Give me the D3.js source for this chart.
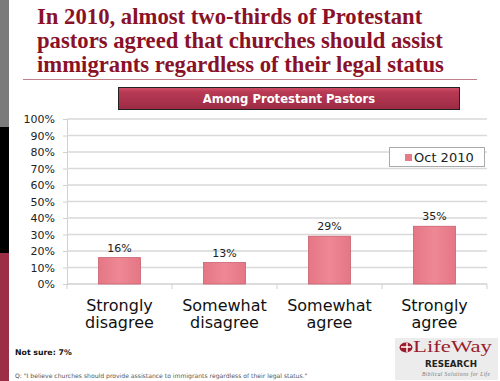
<!DOCTYPE html>
<html><head><meta charset="utf-8">
<script src="https://cdn.jsdelivr.net/npm/d3@7"></script>
<style>html,body{margin:0;padding:0;background:#fff;}svg{display:block;}</style>
</head><body>
<script>
const titleLines = ["In 2010, almost two-thirds of Protestant", "pastors agreed that churches should assist", "immigrants regardless of their legal status"];
const subtitle = "Among Protestant Pastors";
const categories = [["Strongly","disagree"],["Somewhat","disagree"],["Somewhat","agree"],["Strongly","agree"]];
const seriesName = "Oct 2010";
const values = [16, 13, 29, 35];
const yTicks = [0,10,20,30,40,50,60,70,80,90,100];
const noteText = "Not sure: 7%";
const questionText = "Q: \"I believe churches should provide assistance to immigrants regardless of their legal status.\"";

const W = 500, H = 381;
const svg = d3.select("body").append("svg").attr("width", W).attr("height", H);
const defs = svg.append("defs");
const g1 = defs.append("linearGradient").attr("id","hdr").attr("x1",0).attr("y1",0).attr("x2",0).attr("y2",1);
g1.append("stop").attr("offset","0%").attr("stop-color","#d4506a");
g1.append("stop").attr("offset","20%").attr("stop-color","#b83a54");
g1.append("stop").attr("offset","100%").attr("stop-color","#9c2a44");
const g2 = defs.append("linearGradient").attr("id","bar").attr("x1",0).attr("y1",0).attr("x2",1).attr("y2",0);
g2.append("stop").attr("offset","0%").attr("stop-color","#e57685");
g2.append("stop").attr("offset","50%").attr("stop-color","#ee8894");
g2.append("stop").attr("offset","100%").attr("stop-color","#e57685");

// left strip
svg.append("rect").attr("x",0).attr("y",0).attr("width",9).attr("height",127).attr("fill","#7b7b7b");
svg.append("rect").attr("x",0).attr("y",127).attr("width",9).attr("height",126).attr("fill","#000");
svg.append("rect").attr("x",0).attr("y",253).attr("width",9).attr("height",128).attr("fill","#9b2d45");

// title
svg.append("g").selectAll("text").data(titleLines).join("text")
  .attr("x", 37).attr("y", (d,i) => 24 + i*24)
  .attr("font-family", "'Liberation Serif', 'Times New Roman', serif")
  .attr("font-weight", "bold").attr("font-size", 22.7).attr("fill", "#8a1228")
  .text(d => d);
svg.append("line").attr("x1",23).attr("x2",477).attr("y1",79.5).attr("y2",79.5)
  .attr("stroke","#c07f8b").attr("stroke-width",1.2);

// header box
svg.append("rect").attr("x",118.5).attr("y",87.5).attr("width",341).attr("height",22)
  .attr("fill","url(#hdr)").attr("stroke","#222").attr("stroke-width",1);
svg.append("text").attr("x",289).attr("y",103).attr("text-anchor","middle")
  .attr("font-family","'DejaVu Sans', sans-serif").attr("font-weight","bold")
  .attr("font-size",11.6).attr("fill","#fff").text(subtitle);

// chart
const x0 = 67, x1 = 487, yTop = 119, yBot = 284;
const x = d3.scaleBand().domain(d3.range(categories.length)).range([x0, x1]).paddingInner(0).paddingOuter(0);
const y = d3.scaleLinear().domain([0,100]).range([yBot, yTop]);

const yAxis = svg.append("g").attr("transform",`translate(${x0},0)`)
  .call(d3.axisLeft(y).tickValues(yTicks).tickFormat(d => d + "%").tickSize(4).tickPadding(8));
yAxis.select(".domain").attr("stroke","#d0d0d0");
yAxis.selectAll(".tick line").attr("stroke","#d0d0d0");
yAxis.selectAll(".tick text").attr("font-family","'DejaVu Sans', sans-serif").attr("font-size",11).attr("fill","#222");

svg.append("g").selectAll("line").data(yTicks.filter(d => d > 0)).join("line")
  .attr("x1", x0).attr("x2", x1).attr("y1", d => y(d)).attr("y2", d => y(d))
  .attr("stroke","#d9d9d9").attr("stroke-width",1.3);

// x axis
svg.append("line").attr("x1",x0).attr("x2",x1).attr("y1",yBot).attr("y2",yBot).attr("stroke","#d0d0d0").attr("stroke-width",1.3);
const bounds = d3.range(categories.length + 1).map(i => i < categories.length ? x(i) : x0 + x.bandwidth()*categories.length);
svg.append("g").selectAll("line").data(bounds).join("line")
  .attr("x1", d => d).attr("x2", d => d).attr("y1", yBot).attr("y2", yBot + 5)
  .attr("stroke","#d0d0d0");

// bars
const bw = x.bandwidth() * 0.4;
svg.append("g").selectAll("rect").data(values).join("rect")
  .attr("x", (d,i) => x(i) + (x.bandwidth() - bw)/2)
  .attr("y", d => y(d)).attr("width", bw).attr("height", d => yBot - y(d))
  .attr("fill","url(#bar)").attr("stroke","#c9606f").attr("stroke-width",0.8);

svg.append("g").selectAll("text").data(values).join("text")
  .attr("x", (d,i) => x(i) + x.bandwidth()/2).attr("y", d => y(d) - 6)
  .attr("text-anchor","middle").attr("font-family","'DejaVu Sans', sans-serif")
  .attr("font-size",11).attr("fill","#222").text(d => d + "%");

// category labels
const cat = svg.append("g").selectAll("text").data(categories).join("text")
  .attr("text-anchor","middle").attr("font-family","'DejaVu Sans', sans-serif")
  .attr("font-size",16).attr("fill","#111");
cat.selectAll("tspan").data((d,i) => d.map(t => ({t, i}))).join("tspan")
  .attr("x", d => x(d.i) + x.bandwidth()/2).attr("y", (d,j) => 310.5 + j*17.5).text(d => d.t);

// legend
const lg = svg.append("g");
lg.append("rect").attr("x",389.5).attr("y",147.5).attr("width",95).attr("height",19)
  .attr("fill","#fff").attr("stroke","#aaa");
lg.append("rect").attr("x",405).attr("y",154).attr("width",7).attr("height",7).attr("fill","#e57a89");
lg.append("text").attr("x",414).attr("y",162).attr("font-family","'DejaVu Sans', sans-serif")
  .attr("font-size",13).attr("fill","#222").text(seriesName);

// notes
svg.append("text").attr("x",15).attr("y",355).attr("font-family","'DejaVu Sans', sans-serif")
  .attr("font-weight","bold").attr("font-size",7.8).attr("fill","#111").text(noteText);
svg.append("text").attr("x",15).attr("y",378).attr("font-family","'DejaVu Sans', sans-serif")
  .attr("font-size",6.1).attr("fill","#555").text(questionText);

// logo
const logo = svg.append("g");
logo.append("rect").attr("x",395).attr("y",338).attr("width",103).attr("height",42).attr("fill","#ececec");
logo.append("ellipse").attr("cx",406).attr("cy",347.5).attr("rx",6.5).attr("ry",5).attr("fill","#9c1c2c");
logo.append("path").attr("d","M401,347 L411,347 M407,343 L407,352").attr("stroke","#fff").attr("stroke-width",1.4);
logo.append("text").attr("x",413).attr("y",352).attr("font-family","'Liberation Serif', serif")
  .attr("font-size",17).attr("fill","#9c1c2c").attr("textLength",79).attr("lengthAdjust","spacingAndGlyphs").text("LifeWay");
logo.append("text").attr("x",425).attr("y",367).attr("font-family","'DejaVu Sans', sans-serif")
  .attr("font-weight","bold").attr("font-size",9.5).attr("fill","#222").attr("textLength",52).attr("lengthAdjust","spacingAndGlyphs").text("RESEARCH");
logo.append("text").attr("x",422).attr("y",375.5).attr("font-family","'Liberation Serif', serif")
  .attr("font-style","italic").attr("font-size",5.5).attr("fill","#777").attr("textLength",68).text("Biblical Solutions for Life");
</script>
</body></html>
